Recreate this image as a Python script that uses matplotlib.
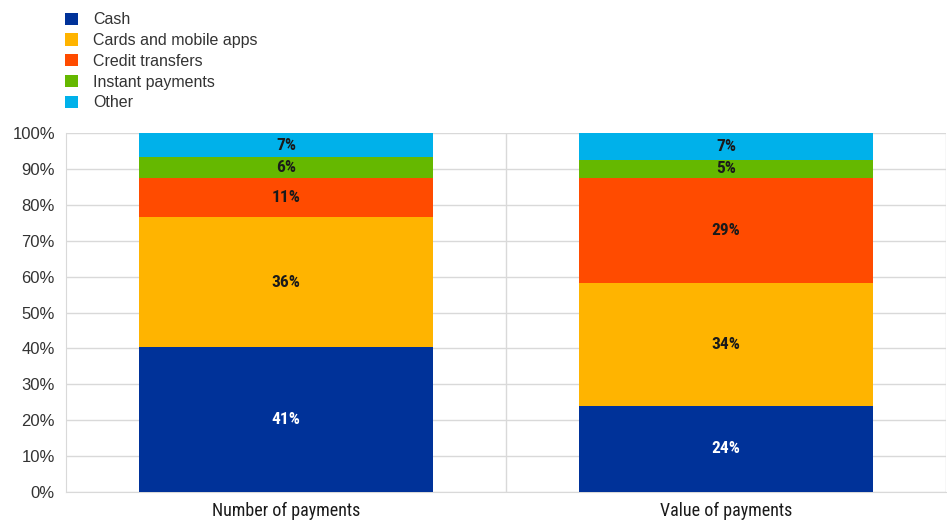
import numpy as np
import matplotlib.pyplot as plt
from matplotlib.patches import Patch

categories = ["Number of payments", "Value of payments"]
series = ["Cash", "Cards and mobile apps", "Credit transfers", "Instant payments", "Other"]
cash = [40.3, 24.0]
cards = [36.2, 34.2]
credit = [11.0, 29.3]
instant = [5.7, 5.1]
other = [6.8, 7.4]
labels = [["41%", "24%"], ["36%", "34%"], ["11%", "29%"], ["6%", "5%"], ["7%", "7%"]]

colors = ["#003299", "#FFB400", "#FF4B00", "#65B800", "#00B1EA"]
label_colors = ["white", "#1a1a1a", "#1a1a1a", "#1a1a1a", "#1a1a1a"]

plt.rcParams['font.family'] = ['Liberation Sans', 'DejaVu Sans']
narrow = ['Roboto Condensed', 'DejaVu Sans']

fig = plt.figure(figsize=(9.47, 5.25), dpi=100)
ax = fig.add_axes([66 / 947, 1 - 492 / 525, 880 / 947, 359 / 525])

x = np.arange(len(categories))
bottom = np.zeros(len(categories))
for i, vals in enumerate([cash, cards, credit, instant, other]):
    vals = np.array(vals)
    ax.bar(x, vals, width=0.667, bottom=bottom, color=colors[i], zorder=3)
    for j in range(len(categories)):
        ax.text(x[j], bottom[j] + vals[j] / 2, labels[i][j], ha='center', va='center',
                fontsize=12.5, fontweight='bold', color=label_colors[i], family=narrow, zorder=4)
    bottom += vals

ax.set_xlim(-0.5, 1.5)
ax.set_ylim(0, 100)
ax.set_yticks(np.arange(0, 101, 10))
ax.set_yticklabels([f"{v}%" for v in range(0, 101, 10)], fontsize=12, color="#333333")
ax.set_xticks(x)
ax.set_xticklabels(categories, fontsize=13, color="#1a1a1a", family=narrow)
ax.set_xticks([0.5, 1.5], minor=True)
ax.grid(axis='y', color="#d9d9d9", linewidth=1, zorder=0)
ax.grid(axis='x', which='minor', color="#d9d9d9", linewidth=1, zorder=0)
ax.tick_params(axis='both', which='both', length=0)
ax.tick_params(axis='y', pad=8)
ax.tick_params(axis='x', pad=7)
for s in ["top", "right"]:
    ax.spines[s].set_visible(False)
ax.spines["left"].set_color("#d9d9d9")
ax.spines["bottom"].set_color("#d9d9d9")

handles = [Patch(facecolor=c, edgecolor='none') for c in colors]
fig.legend(handles, series, loc='upper left', bbox_to_anchor=(51 / 947, 1.004), frameon=False,
           fontsize=11.5, handlelength=0.8, handleheight=0.8, labelspacing=0.36, handletextpad=0.95,
           labelcolor="#333333")

fig.savefig("out.png", dpi=100)
